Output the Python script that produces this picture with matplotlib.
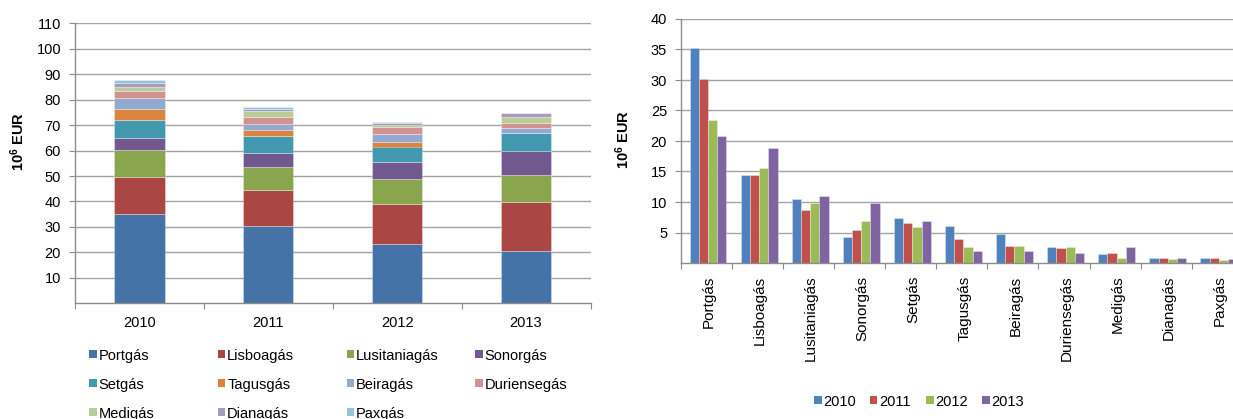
import matplotlib
matplotlib.use("Agg")
import matplotlib.pyplot as plt
from matplotlib.patches import Rectangle
import numpy as np

plt.rcParams["font.family"] = ["Liberation Sans", "DejaVu Sans"]
plt.rcParams["mathtext.fontset"] = "custom"
plt.rcParams["mathtext.rm"] = "Liberation Sans"
plt.rcParams["mathtext.bf"] = "Liberation Sans:bold"

# ---- data -------------------------------------------------------------
years = ["2010", "2011", "2012", "2013"]
operators = ["Portgás", "Lisboagás", "Lusitaniagás", "Sonorgás", "Setgás",
             "Tagusgás", "Beiragás", "Duriensegás", "Medigás", "Dianagás", "Paxgás"]

# stacked totals (10^6 EUR), one list per operator, years 2010-2013
stack_portgas = [35.2, 30.4, 23.4, 20.4]
stack_lisboagas = [14.4, 14.1, 15.7, 19.3]
stack_lusitaniagas = [10.5, 8.9, 9.8, 10.8]
stack_sonorgas = [4.7, 5.8, 6.8, 9.4]
stack_setgas = [7.3, 6.6, 5.9, 7.2]
stack_tagusgas = [4.2, 2.4, 1.9, 0.0]
stack_beiragas = [4.3, 2.4, 3.0, 1.9]
stack_duriensegas = [2.7, 2.5, 2.6, 1.7]
stack_medigas = [1.7, 2.3, 0.8, 2.5]
stack_dianagas = [1.4, 0.8, 1.0, 1.6]
stack_paxgas = [1.2, 0.8, 0.3, 0.1]

# per-operator values (10^6 EUR), one list per year, operators in order
rev_2010 = [35.3, 14.5, 10.5, 4.3, 7.3, 6.0, 4.7, 2.6, 1.4, 0.9, 0.9]
rev_2011 = [30.2, 14.5, 8.7, 5.4, 6.6, 4.0, 2.8, 2.4, 1.7, 0.9, 0.9]
rev_2012 = [23.5, 15.6, 9.9, 6.9, 5.9, 2.6, 2.8, 2.6, 0.9, 0.7, 0.5]
rev_2013 = [20.8, 18.9, 11.0, 9.9, 6.9, 1.9, 1.9, 1.7, 2.6, 0.9, 0.7]

stack_series = [stack_portgas, stack_lisboagas, stack_lusitaniagas, stack_sonorgas,
                stack_setgas, stack_tagusgas, stack_beiragas, stack_duriensegas,
                stack_medigas, stack_dianagas, stack_paxgas]
year_series = [rev_2010, rev_2011, rev_2012, rev_2013]

op_colors = ["#4572A7", "#AA4643", "#89A54E", "#71588F", "#4198AF", "#DB843D",
             "#93A9CF", "#D19392", "#B9CD96", "#A99BBD", "#92C5D6"]
year_colors = ["#4F81BD", "#C0504D", "#9BBB59", "#8064A2"]

GRID = "#A3A3A3"
AXIS = "#8C8C8C"
FS = 10.5

W, H = 1233, 419
fig = plt.figure(figsize=(W / 100, H / 100), dpi=100)


def axes_px(x0, ytop, x1, ybot):
    return fig.add_axes([x0 / W, 1 - ybot / H, (x1 - x0) / W, (ybot - ytop) / H])


def fx(x):
    return x / W


def fy(y):
    return 1 - y / H


def style_axes(ax):
    for s in ("top", "right"):
        ax.spines[s].set_visible(False)
    for s in ("left", "bottom"):
        ax.spines[s].set_color(AXIS)
        ax.spines[s].set_linewidth(1.0)
    ax.set_axisbelow(True)
    ax.yaxis.grid(True, color=GRID, linewidth=1.0)
    ax.tick_params(axis="y", which="major", length=4, color=AXIS, labelsize=FS, pad=6)


# ---- left: stacked bars ----------------------------------------------
ax1 = axes_px(75, 23.3, 590.5, 303.3)
style_axes(ax1)
x = np.arange(len(years))
bottom = np.zeros(len(years))
for vals, col, name in zip(stack_series, op_colors, operators):
    ax1.bar(x, vals, width=0.39, bottom=bottom, color=col, label=name,
            edgecolor=(1, 1, 1, 0.45), linewidth=0.5)
    bottom += np.array(vals)
ax1.set_xlim(-0.5, len(years) - 0.5)
ax1.set_ylim(0, 110)
ax1.set_yticks(np.arange(10, 111, 10))
ax1.set_xticks(np.arange(-0.5, len(years), 1.0))
ax1.set_xticklabels([])
ax1.set_xticks(x, minor=True)
ax1.set_xticklabels(years, minor=True)
ax1.tick_params(axis="x", which="major", length=4, color=AXIS)
ax1.tick_params(axis="x", which="minor", length=0, labelsize=FS, pad=9)

fig.text(fx(18), fy(141), r"$\mathbf{10^{6}}$ EUR", rotation=90, fontsize=FS,
         fontweight="bold", ha="center", va="center")

# legend for the stacked chart, laid out row by row
col_x = [89.3, 217.7, 346.7, 475.0]
row_y = [354, 383, 412]
sq = 7.5
for i, (name, col) in enumerate(zip(operators, op_colors)):
    cx = col_x[i % 4]
    cy = row_y[i // 4]
    fig.add_artist(Rectangle((fx(cx), fy(cy + sq / 2)), sq / W, sq / H,
                             transform=fig.transFigure, facecolor=col, edgecolor="none"))
    fig.text(fx(cx + sq + 2), fy(cy), name, fontsize=FS, ha="left", va="center_baseline")

# ---- right: grouped bars ---------------------------------------------
ax2 = axes_px(681, 19, 681 + 51.07 * len(operators), 263)
style_axes(ax2)
xo = np.arange(len(operators))
bw = 0.18
for k, (vals, col, yr) in enumerate(zip(year_series, year_colors, years)):
    ax2.bar(xo + (k - 1.5) * bw + 0.03, vals, width=bw, color=col, label=yr,
            edgecolor=(1, 1, 1, 0.45), linewidth=0.5)
ax2.set_xlim(-0.5, len(operators) - 0.5)
ax2.set_ylim(0, 40)
ax2.set_yticks(np.arange(5, 41, 5))
ax2.set_xticks(np.arange(-0.5, len(operators), 1.0))
ax2.set_xticklabels([])
ax2.set_xticks(xo + 0.05, minor=True)
ax2.set_xticklabels(operators, minor=True, rotation=90)
ax2.tick_params(axis="x", which="major", length=4, color=AXIS)
ax2.tick_params(axis="x", which="minor", length=0, labelsize=FS + 0.5, pad=9)

fig.text(fx(623), fy(139), r"$\mathbf{10^{6}}$ EUR", rotation=90, fontsize=FS,
         fontweight="bold", ha="center", va="center")

leg_x = [814, 869.8, 926.2, 982]
for cx, yr, col in zip(leg_x, years, year_colors):
    cy = 400
    fig.add_artist(Rectangle((fx(cx), fy(cy + sq / 2)), sq / W, sq / H,
                             transform=fig.transFigure, facecolor=col, edgecolor="none"))
    fig.text(fx(cx + sq + 2), fy(cy), yr, fontsize=FS, ha="left", va="center_baseline")

fig.savefig("out.png", dpi=100)
